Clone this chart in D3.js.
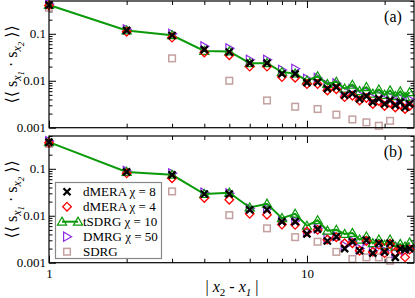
<!DOCTYPE html>
<html>
<head>
<meta charset="utf-8">
<script src="https://cdn.jsdelivr.net/npm/d3@7"></script>
<style>
  body { margin: 0; background: #fff; }
  svg text { font-family: "Liberation Serif", "DejaVu Serif", serif; }
</style>
</head>
<body>
<svg id="chart" width="415" height="298"></svg>
<script>
// distances |x2 - x1|
const dist = d3.range(1, 26);
const distOdd = [1, 3, 5, 7, 9, 11, 13, 15, 17, 19, 21];

// panel (a)
const meraA8 = [0.41, 0.118, 0.092, 0.046, 0.041, 0.0237, 0.0237, 0.0141, 0.014, 0.0091, 0.0093, 0.0068, 0.0073, 0.0049, 0.0053, 0.0041, 0.0047, 0.0035, 0.0041, 0.0032, 0.0038, 0.0030, 0.0035, 0.0027, 0.0032];
const meraA4 = [0.40, 0.110, 0.083, 0.040, 0.035, 0.020, 0.020, 0.012, 0.0116, 0.0085, 0.0085, 0.0062, 0.0066, 0.0045, 0.0048, 0.0038, 0.0043, 0.0032, 0.0037, 0.0029, 0.0034, 0.0027, 0.0031, 0.0025, 0.0029];
const tsdrgA = [0.41, 0.118, 0.093, 0.043, 0.042, 0.0237, 0.0237, 0.0153, 0.0142, 0.0101, 0.0124, 0.0085, 0.0095, 0.0068, 0.0082, 0.0060, 0.0073, 0.0053, 0.0065, 0.0050, 0.0062, 0.0047, 0.0059, 0.0045, 0.0057];
const dmrgA = [0.43, 0.125, 0.10, 0.054, 0.049, 0.028, 0.028, 0.017, 0.018, 0.011, 0.0115, 0.0082, 0.0088, 0.006, 0.0066, 0.005, 0.0058, 0.0043, 0.005, 0.004, 0.0046, 0.0037, 0.0043, 0.0034, 0.004];
const sdrgA = [0.36, 0.030, 0.010, 0.0038, 0.0028, 0.0025, 0.0019, 0.0015, 0.0013, 0.0011, 0.0014];

// panel (b)
const meraB8 = [0.37, 0.086, 0.0745, 0.029, 0.029, 0.0134, 0.0134, 0.0075, 0.0075, 0.0041, 0.0052, 0.0029, 0.0036, 0.0020, 0.0028, 0.0018, 0.0030, 0.0016, 0.0026, 0.0017, 0.0026, 0.0013, 0.0020, 0.0019, 0.0020];
const meraB4 = [0.36, 0.080, 0.063, 0.024, 0.022, 0.011, 0.0105, 0.0065, 0.0064, 0.0046, 0.0050, 0.0031, 0.0035, 0.0026, 0.0026, 0.0018, 0.0029, 0.0017, 0.0024, 0.0016, 0.0025, 0.0017, 0.0019, 0.0013, 0.0019];
const tsdrgB = [0.37, 0.086, 0.0745, 0.029, 0.031, 0.015, 0.018, 0.0089, 0.011, 0.0061, 0.0080, 0.0048, 0.0050, 0.0041, 0.0043, 0.0031, 0.0036, 0.0026, 0.0031, 0.0024, 0.0031, 0.0022, 0.0025, 0.0022, 0.0027];
const dmrgB = [0.39, 0.090, 0.080, 0.031, 0.030, 0.0142, 0.014, 0.0080, 0.0078, 0.0045, 0.0054, 0.0033, 0.0037, 0.0023, 0.0029, 0.0020, 0.0029, 0.0018, 0.0025, 0.0018, 0.0024, 0.0016, 0.0021, 0.0018, 0.0021];
const sdrgB = [0.34, 0.033, 0.0103, 0.0054, 0.0035, 0.0028, 0.0017, 0.0012, 0.0013, 0.0013, 0.0011];

const yTicks = [0.001, 0.01, 0.1];
const yTickLabels = ["0.001", "0.01", "0.1"];
const xTicks = [1, 10];
const xTickLabels = ["1", "10"];
const legendLabels = ["dMERA \u03c7 = 8", "dMERA \u03c7 = 4", "tSDRG \u03c7 = 10", "DMRG \u03c7 = 50", "SDRG"];

const col = { black: "#000", red: "#ff0000", green: "#0a9a0a", purple: "#8a2be2", sdrg: "#c4a0a0" };

const svg = d3.select("#chart");
const left = 49, right = 414;
const x = d3.scaleLog().domain([1, 26]).range([left, right]);

const panels = [
  { top: 1, bottom: 127.7, label: "(a)", m8: meraA8, m4: meraA4, ts: tsdrgA, dm: dmrgA, sd: sdrgA },
  { top: 136, bottom: 262.7, label: "(b)", m8: meraB8, m4: meraB4, ts: tsdrgB, dm: dmrgB, sd: sdrgB }
];

const yMinor = [];
[0.001, 0.01, 0.1].forEach(d => { for (let k = 2; k <= 9; k++) if (d * k <= 0.5) yMinor.push(d * k); });
const xMinor = [2, 3, 4, 5, 6, 7, 8, 9, 20];

function marker(g, type, px, py, c) {
  if (type === "x") {
    g.append("path").attr("d", `M${px-3.5},${py-3.5}L${px+3.5},${py+3.5}M${px-3.5},${py+3.5}L${px+3.5},${py-3.5}`)
      .attr("stroke", c).attr("stroke-width", 2.3).attr("fill", "none");
  } else if (type === "diamond") {
    g.append("path").attr("d", `M${px},${py-4.3}L${px+4.3},${py}L${px},${py+4.3}L${px-4.3},${py}Z`)
      .attr("stroke", c).attr("stroke-width", 1.3).attr("fill", "none");
  } else if (type === "tri") {
    g.append("path").attr("d", `M${px},${py-4.6}L${px+4.6},${py+3.4}L${px-4.6},${py+3.4}Z`)
      .attr("stroke", c).attr("stroke-width", 1.2).attr("fill", "none");
  } else if (type === "rtri") {
    g.append("path").attr("d", `M${px+4.6},${py}L${px-3.4},${py-4.6}L${px-3.4},${py+4.6}Z`)
      .attr("stroke", c).attr("stroke-width", 1.2).attr("fill", "none");
  } else if (type === "square") {
    g.append("rect").attr("x", px - 3.3).attr("y", py - 3.3).attr("width", 6.6).attr("height", 6.6)
      .attr("stroke", c).attr("stroke-width", 1.5).attr("fill", "none");
  }
}

panels.forEach((p, pi) => {
  const y = d3.scaleLog().domain([0.001, 0.5]).range([p.bottom, p.top]);
  const g = svg.append("g");

  // ticks, inward on all four sides
  const ax = (a, tx, ty) => {
    const s = g.append("g").attr("transform", `translate(${tx},${ty})`).call(a);
    s.select(".domain").remove();
    s.selectAll("line").attr("stroke", "#000");
    return s;
  };
  ax(d3.axisLeft(y).tickValues(yTicks).tickSize(-7).tickPadding(3).tickFormat((d, i) => yTickLabels[i]), left, 0)
    .selectAll("text").attr("font-size", 13).attr("fill", "#000");
  ax(d3.axisLeft(y).tickValues(yMinor).tickSize(-3.5).tickFormat(""), left, 0);
  ax(d3.axisRight(y).tickValues(yTicks).tickSize(-7).tickFormat(""), right, 0);
  ax(d3.axisRight(y).tickValues(yMinor).tickSize(-3.5).tickFormat(""), right, 0);
  const bx = ax(d3.axisBottom(x).tickValues(xTicks).tickSize(-7).tickPadding(4)
    .tickFormat((d, i) => pi === 1 ? xTickLabels[i] : ""), 0, p.bottom);
  bx.selectAll("text").attr("font-size", 13).attr("fill", "#000").attr("dy", "0.9em");
  ax(d3.axisBottom(x).tickValues(xMinor).tickSize(-4).tickFormat(""), 0, p.bottom);
  ax(d3.axisTop(x).tickValues(xTicks).tickSize(-7).tickFormat(""), 0, p.top);
  ax(d3.axisTop(x).tickValues(xMinor).tickSize(-4).tickFormat(""), 0, p.top);

  // data
  const m = g.append("g");
  distOdd.forEach((d, i) => marker(m, "square", x(d), y(p.sd[i]), col.sdrg));
  dist.forEach((d, i) => marker(m, "rtri", x(d), y(p.dm[i]), col.purple));
  m.append("path").datum(p.ts)
    .attr("d", d3.line().x((v, i) => x(dist[i])).y(v => y(v)))
    .attr("stroke", col.green).attr("stroke-width", 2).attr("fill", "none");
  dist.forEach((d, i) => marker(m, "tri", x(d), y(p.ts[i]), col.green));
  dist.forEach((d, i) => marker(m, "diamond", x(d), y(p.m4[i]), col.red));
  dist.forEach((d, i) => marker(m, "x", x(d), y(p.m8[i]), col.black));

  // frame
  g.append("rect").attr("x", left).attr("y", p.top).attr("width", right - left).attr("height", p.bottom - p.top)
    .attr("fill", "none").attr("stroke", "#000").attr("stroke-width", 1.2);

  g.append("text").attr("x", 393).attr("y", p.top + 21).attr("text-anchor", "middle")
    .attr("font-size", 16).text(p.label);

  // y label
  const cy = (p.top + p.bottom) / 2;
  const yl = g.append("text").attr("transform", `translate(17,${cy}) rotate(-90)`)
    .attr("text-anchor", "middle").attr("font-size", 16);
  yl.append("tspan").text("\u27e8\u27e8 s");
  yl.append("tspan").attr("font-size", 12).attr("dy", 4).attr("font-style", "italic").text("x");
  yl.append("tspan").attr("font-size", 9).attr("dy", 3).attr("font-style", "italic").text("1");
  yl.append("tspan").attr("dy", -7).text(" \u00b7 s");
  yl.append("tspan").attr("font-size", 12).attr("dy", 4).attr("font-style", "italic").text("x");
  yl.append("tspan").attr("font-size", 9).attr("dy", 3).attr("font-style", "italic").text("2");
  yl.append("tspan").attr("dy", -7).text(" \u27e9\u27e9");
});

// x label
const xl = svg.append("text").attr("x", 232).attr("y", 292).attr("text-anchor", "middle").attr("font-size", 16);
xl.append("tspan").text("| ");
xl.append("tspan").attr("font-style", "italic").text("x");
xl.append("tspan").attr("font-size", 11).attr("dy", 4).text("2");
xl.append("tspan").attr("dy", -4).text(" - ");
xl.append("tspan").attr("font-style", "italic").text("x");
xl.append("tspan").attr("font-size", 11).attr("dy", 4).attr("font-style", "italic").text("1");
xl.append("tspan").attr("dy", -4).text(" |");

// legend
const lg = svg.append("g");
lg.append("rect").attr("x", 55.5).attr("y", 182.5).attr("width", 106).attr("height", 76)
  .attr("fill", "#fff").attr("stroke", "#888").attr("stroke-width", 1.2);
const legendTypes = [["x", col.black], ["diamond", col.red], ["tri", col.green], ["rtri", col.purple], ["square", col.sdrg]];
legendLabels.forEach((t, i) => {
  const ly = 191.7 + i * 15;
  if (i === 2) {
    lg.append("line").attr("x1", 62).attr("x2", 78).attr("y1", ly).attr("y2", ly)
      .attr("stroke", col.green).attr("stroke-width", 2);
    marker(lg, "tri", 62, ly, col.green);
    marker(lg, "tri", 78, ly, col.green);
  } else {
    marker(lg, legendTypes[i][0], 67, ly, legendTypes[i][1]);
  }
  lg.append("text").attr("x", 83).attr("y", ly + 4.5).attr("font-size", 13).text(t);
});
</script>
</body>
</html>
